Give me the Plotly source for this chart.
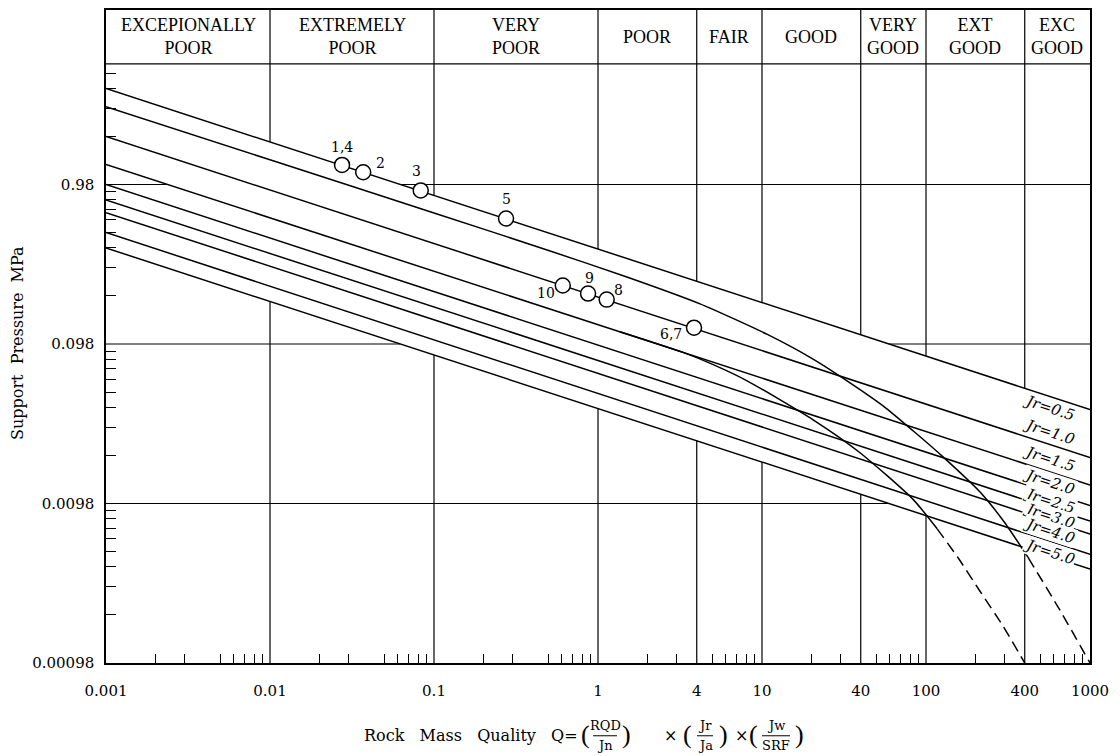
import numpy as np
import plotly.graph_objects as go

# ---------------- data ----------------
quality_bounds = [0.001, 0.01, 0.1, 1, 4, 10, 40, 100, 400, 1000]
quality_classes = ["EXCEPIONALLY<br>POOR", "EXTREMELY<br>POOR", "VERY<br>POOR", "POOR", "FAIR",
                   "GOOD", "VERY<br>GOOD", "EXT<br>GOOD", "EXC<br>GOOD"]

x_tick_vals = [0.001, 0.01, 0.1, 1, 4, 10, 40, 100, 400, 1000]
x_tick_text = ["0.001", "0.01", "0.1", "1", "4", "10", "40", "100", "400", "1000"]
y_tick_vals = [0.00098, 0.0098, 0.098, 0.98]
y_tick_text = ["0.00098", "0.0098", "0.098", "0.98"]

jr_values = [0.5, 1.0, 1.5, 2.0, 2.5, 3.0, 4.0, 5.0]
jr_q_ends = [0.001, 1000]
jr_p_left = [3.92, 1.96, 1.31, 0.98, 0.784, 0.653, 0.49, 0.392]
jr_p_right = [0.038, 0.019, 0.0128, 0.0095, 0.0076, 0.0063, 0.0047, 0.0038]

# curve ending at Q = 1000 (solid part, then dashed part)
curve1_q = [0.001, 0.01, 0.1, 0.5, 1.5, 4.19, 10.7, 20, 34.4, 55, 83.4, 130, 213, 300, 419]
curve1_p = [3.01, 1.40, 0.65, 0.378, 0.258, 0.175, 0.113, 0.080, 0.056, 0.040, 0.028, 0.0188,
            0.0116, 0.0075, 0.0045]
curve1_dash_q = [419, 656, 1000]
curve1_dash_p = [0.0045, 0.0021, 0.00098]

# curve ending at Q = 400 (solid part, then dashed part)
curve2_q = [1.36, 3.30, 5.0, 8.11, 20.5, 39.6, 83.4, 117]
curve2_p = [0.117, 0.0868, 0.073, 0.0576, 0.0328, 0.0204, 0.0104, 0.0068]
curve2_dash_q = [117, 158, 213, 295, 400]
curve2_dash_p = [0.0068, 0.00443, 0.00277, 0.00167, 0.00098]

case_labels = ["1,4", "2", "3", "5", "10", "9", "8", "6,7"]
case_q = [0.0275, 0.037, 0.083, 0.275, 0.61, 0.87, 1.13, 3.85]
case_p = [1.30, 1.17, 0.90, 0.60, 0.228, 0.203, 0.186, 0.124]

Y_BOT, Y_TOP = 0.00098, 12.17

# ---------------- layout helpers ----------------
OFF = 8                      # page body margin of the html page
W, H = 1112, 748
ML, MR, MT, MB = 98, 30, 0, 93
PW, PH = W - ML - MR, H - MT - MB
FONT = "DejaVu Serif"
HFONT = "Liberation Serif"


def px_x(px):
    return (px - OFF - ML) / PW


def px_y(py):
    return (OFF + H - MB - py) / PH


def p_at(q, qs, ps):
    return 10 ** np.interp(np.log10(q), np.log10(qs), np.log10(ps))


def q_at(p, qs, ps):
    lq = np.log10(qs)
    lp = np.log10(ps)
    return 10 ** np.interp(np.log10(p), lp[::-1], lq[::-1])


fig = go.Figure()

# ---- grid segments (interrupted by the band of curves) ----
top_line = [jr_p_left[0], jr_p_right[0]]
bot_line = [jr_p_left[-1], jr_p_right[-1]]
gx, gy = [], []
for q in x_tick_vals[1:-1]:
    gx += [q, q, None, q, q, None]
    gy += [Y_TOP, p_at(q, jr_q_ends, top_line), None, Y_BOT, p_at(q, jr_q_ends, bot_line), None]
for p in y_tick_vals[1:]:
    above = [i for i in range(len(jr_values)) if jr_p_left[i] > p]
    if above:
        i = min(above, key=lambda k: jr_p_left[k])
        qc = q_at(p, jr_q_ends, [jr_p_left[i], jr_p_right[i]])
        gx += [0.001, qc, None]
        gy += [p, p, None]
    if p > jr_p_right[0]:
        qc = q_at(p, jr_q_ends, top_line)
        gx += [qc, 1000, None]
        gy += [p, p, None]
fig.add_trace(go.Scatter(x=gx, y=gy, mode="lines", line=dict(color="black", width=1.2),
                         hoverinfo="skip", showlegend=False))

# ---- Jr lines ----
for jr, pl, pr in zip(jr_values, jr_p_left, jr_p_right):
    fig.add_trace(go.Scatter(x=jr_q_ends, y=[pl, pr], mode="lines",
                             line=dict(color="black", width=1.5), name=f"Jr={jr}", showlegend=False))

# ---- curves ----
for q, p, dash in [(curve1_q, curve1_p, "solid"), (curve1_dash_q, curve1_dash_p, "11px,6px"),
                   (curve2_q, curve2_p, "solid"), (curve2_dash_q, curve2_dash_p, "11px,6px")]:
    fig.add_trace(go.Scatter(x=q, y=p, mode="lines",
                             line=dict(color="black", width=1.5, dash=dash, shape="spline",
                                       smoothing=0.6),
                             showlegend=False))

# ---- case points ----
fig.add_trace(go.Scatter(x=case_q, y=case_p, mode="markers",
                         marker=dict(size=15, color="white", line=dict(color="black", width=1.5)),
                         showlegend=False))

annotations = []
# header labels
for i, name in enumerate(quality_classes):
    xc = (np.log10(quality_bounds[i]) + np.log10(quality_bounds[i + 1])) / 2
    annotations.append(dict(x=xc, xref="x", y=px_y(35), yref="paper", text=name, showarrow=False,
                            font=dict(family=HFONT, size=18, color="black"), xanchor="center",
                            yanchor="middle"))

# case labels
case_shift = [(0, 18), (17, 9), (-4, 19), (0, 19), (-17, -7), (1, 16), (12, 10), (-23, -6)]
for lab, q, p, (dx, dy) in zip(case_labels, case_q, case_p, case_shift):
    annotations.append(dict(x=np.log10(q), y=np.log10(p), xref="x", yref="y", text=lab,
                            showarrow=False, xshift=dx, yshift=dy, xanchor="center", yanchor="middle",
                            font=dict(family=FONT, size=14, color="black")))

# Jr labels
jr_label_q = 570
jr_label_shift = [-11, 13, 13, 11, 7, 5, 10, 4]
for jr, pl, pr, dy in zip(jr_values, jr_p_left, jr_p_right, jr_label_shift):
    pp = p_at(jr_label_q, jr_q_ends, [pl, pr])
    annotations.append(dict(x=np.log10(jr_label_q), y=np.log10(pp), xref="x", yref="y",
                            text=f"<i>Jr={jr:.1f}</i>", showarrow=False, yshift=dy, textangle=18,
                            xanchor="center", yanchor="middle", bgcolor="white", borderpad=0,
                            font=dict(family=FONT, size=15, color="black")))

# y title
annotations.append(dict(x=px_x(18), y=px_y(342), xref="paper", yref="paper",
                        text="Support\u00a0\u00a0Pressure\u00a0\u00a0MPa", textangle=-90,
                        xanchor="center", yanchor="middle",
                        showarrow=False, font=dict(family=FONT, size=16, color="black")))

# x title (composed)
tf = dict(family=FONT, size=16, color="black")
sf = dict(family=FONT, size=13, color="black")
pf = dict(family="Liberation Serif", size=26, color="black")
annotations.append(dict(x=px_x(580), y=px_y(736), xref="paper", yref="paper", xanchor="right",
                        yanchor="middle",
                        text="Rock\u00a0\u00a0\u00a0Mass\u00a0\u00a0\u00a0Quality\u00a0\u00a0\u00a0Q=",
                        showarrow=False, font=tf))
pieces = [("(", 585, 735, pf), ("RQD", 605, 726, sf), ("Jn", 605, 746, sf), (")", 626, 735, pf),
          ("×", 670, 736, tf),
          ("(", 687, 735, pf), ("Jr", 705, 726, sf), ("Ja", 705, 746, sf), (")", 723, 735, pf),
          ("×", 741, 736, tf),
          ("(", 753, 735, pf), ("Jw", 776, 726, sf), ("SRF", 776, 746, sf), (")", 799, 735, pf)]
for t, x, y, f in pieces:
    annotations.append(dict(x=px_x(x), y=px_y(y), xref="paper", yref="paper", text=t,
                            xanchor="center", yanchor="middle",
                            showarrow=False, font=f, borderpad=0))

shapes = [dict(type="line", xref="paper", yref="paper", x0=0, x1=1, y0=px_y(62), y1=px_y(62),
               line=dict(color="black", width=1.2))]
for a, b in [(593, 617), (697, 713), (762, 790)]:
    shapes.append(dict(type="line", xref="paper", yref="paper", x0=px_x(a), x1=px_x(b),
                       y0=px_y(736), y1=px_y(736), line=dict(color="black", width=1)))

x_minor = [k * 10.0 ** n for n in range(-3, 3) for k in (2, 3, 5, 6, 7, 8, 9)]
y_minor = [0.98 * k * 10.0 ** n for n in range(-4, 1) for k in range(2, 10)
           if Y_BOT < 0.98 * k * 10.0 ** n < 5]

fig.update_layout(
    width=W, height=H, margin=dict(l=ML, r=MR, t=MT, b=MB),
    paper_bgcolor="white", plot_bgcolor="white", showlegend=False,
    annotations=annotations, shapes=shapes,
    xaxis=dict(type="log", range=[-3, 3], tickmode="array", tickvals=x_tick_vals, ticktext=x_tick_text,
               ticks="", showgrid=False, zeroline=False, showline=True, mirror=True,
               linecolor="black", linewidth=1.5, ticklabelstandoff=13,
               tickfont=dict(family=FONT, size=15, color="black"),
               minor=dict(tickmode="array", tickvals=x_minor, ticks="inside", ticklen=9,
                          tickwidth=1.2, tickcolor="black", showgrid=False)),
    yaxis=dict(type="log", range=[np.log10(Y_BOT), np.log10(Y_TOP)], tickmode="array",
               tickvals=y_tick_vals, ticktext=y_tick_text, ticks="", showgrid=False, zeroline=False,
               showline=True, mirror=True, linecolor="black", linewidth=1.5, ticklabelstandoff=7,
               tickfont=dict(family=FONT, size=15, color="black"),
               minor=dict(tickmode="array", tickvals=y_minor, ticks="inside", ticklen=10,
                          tickwidth=1.2, tickcolor="black", showgrid=False)),
)

fig.write_html("out.html")
